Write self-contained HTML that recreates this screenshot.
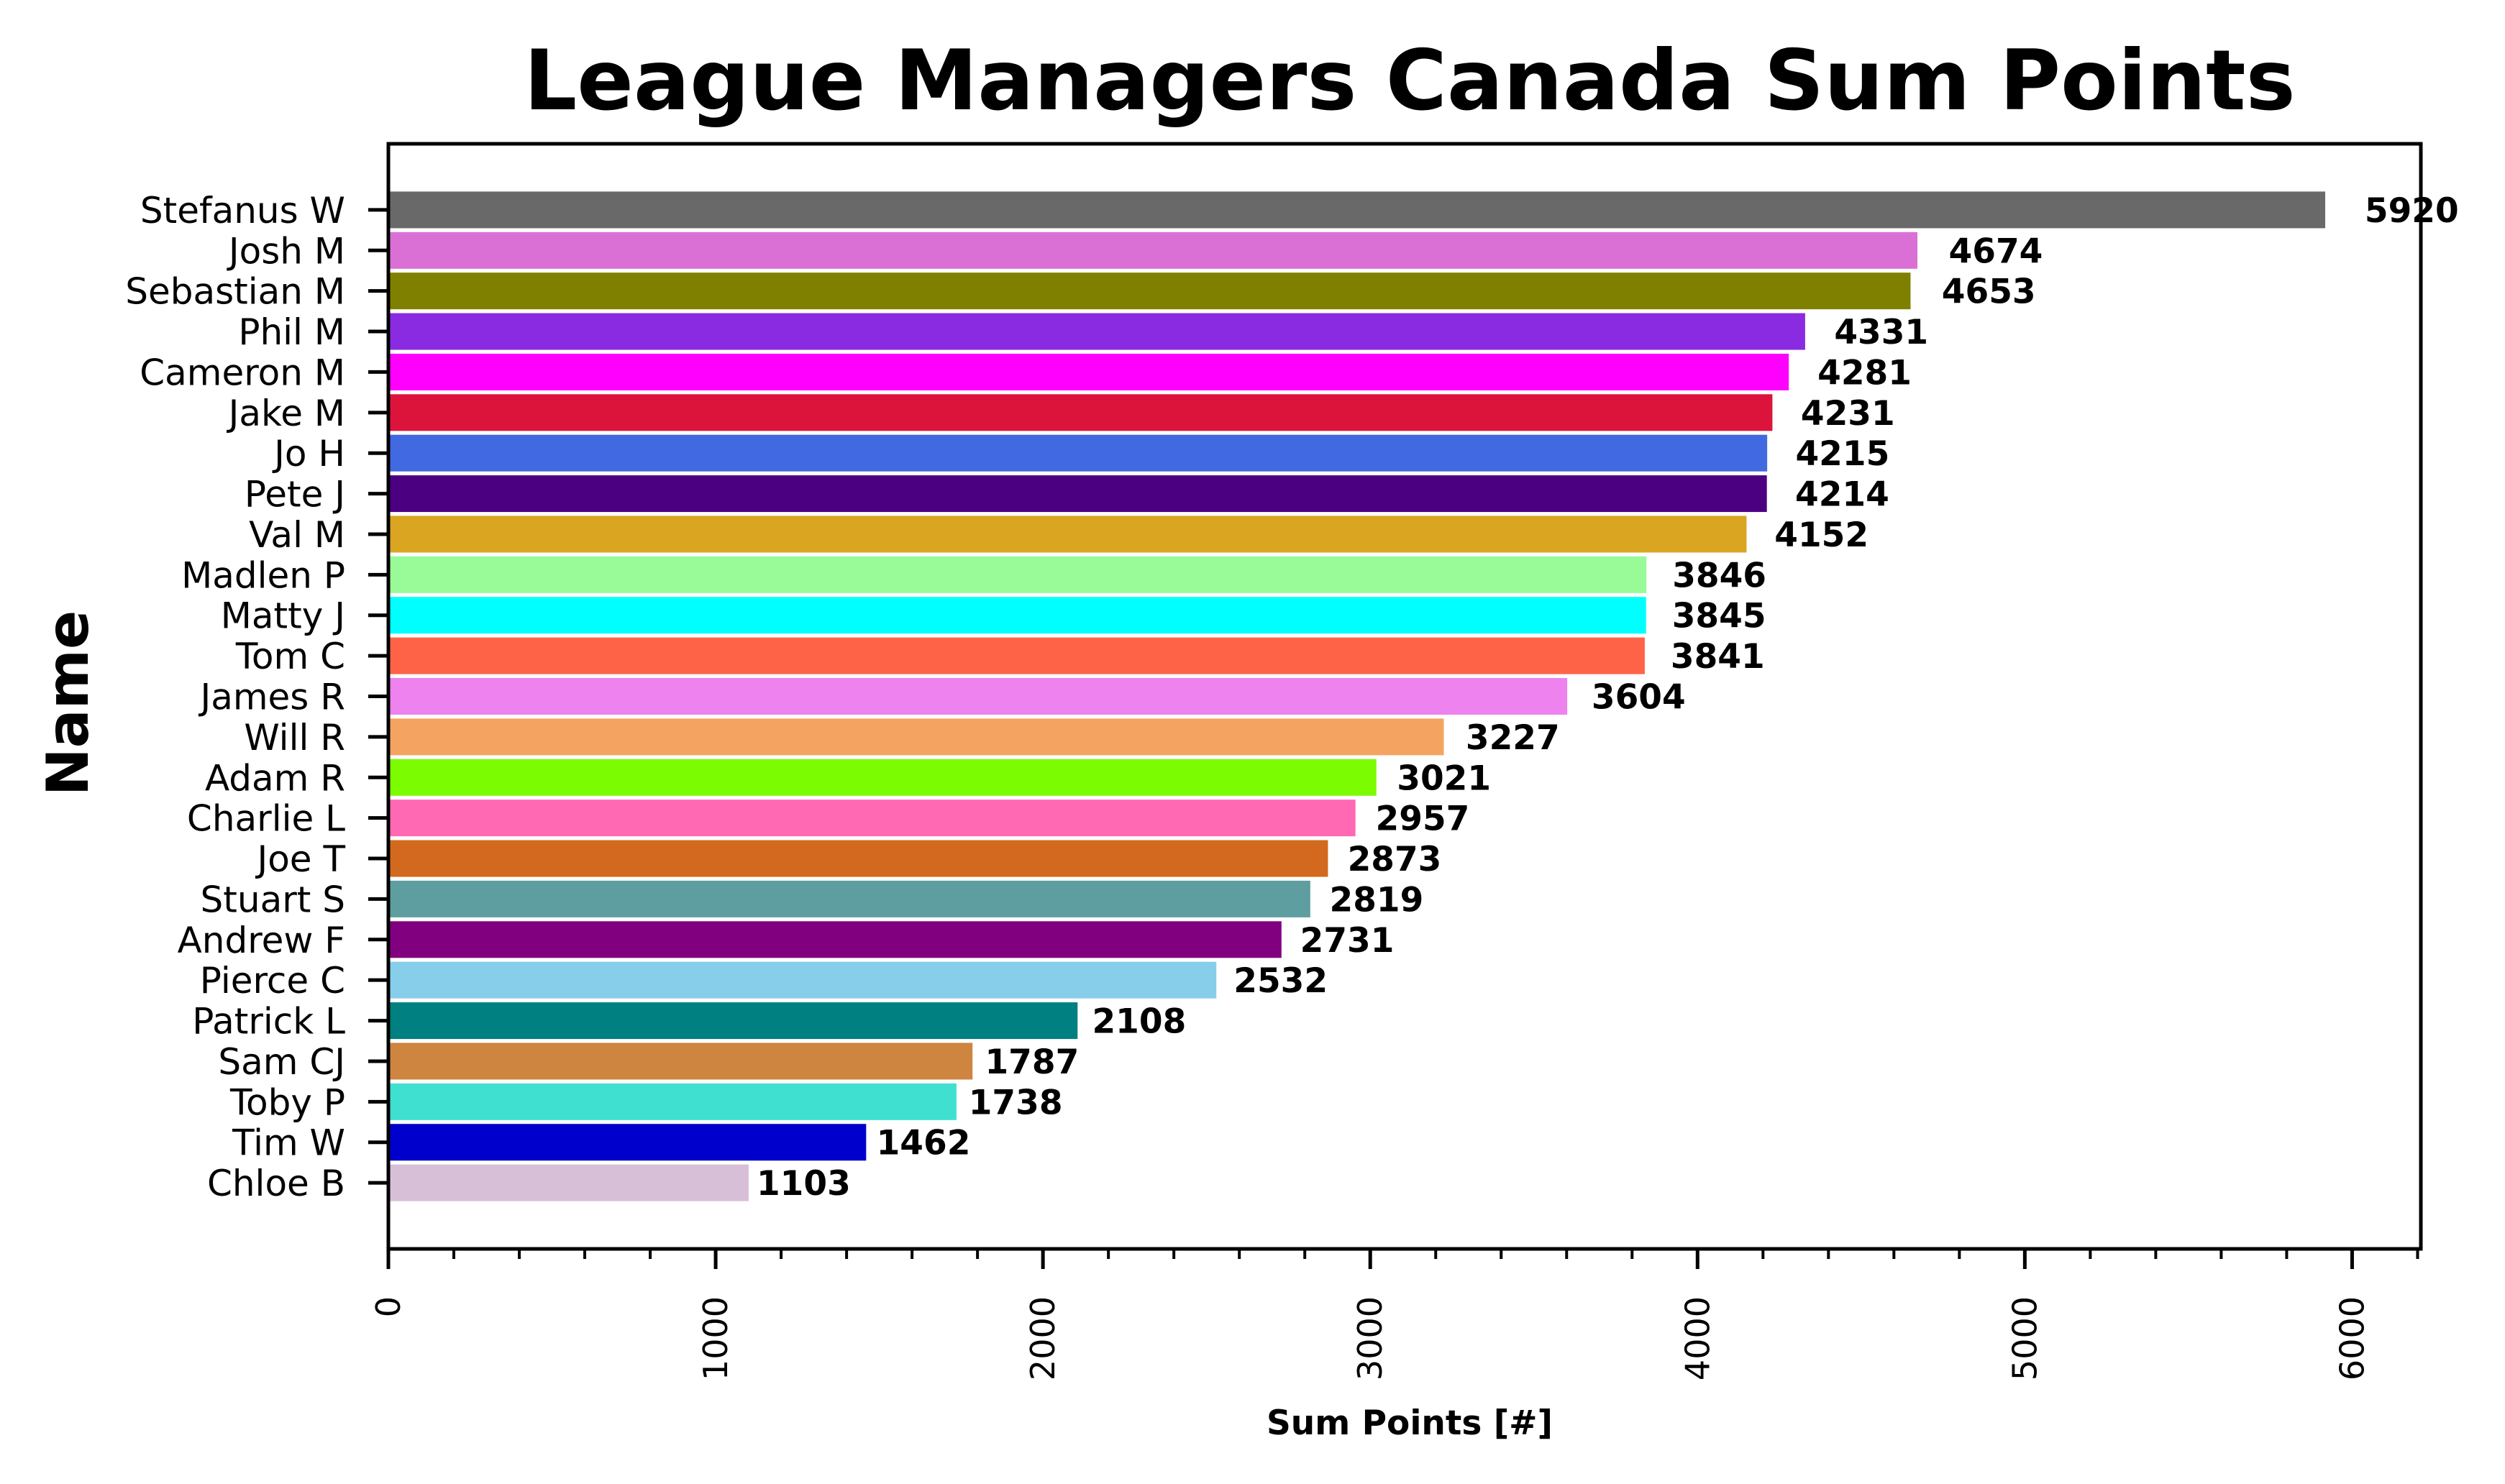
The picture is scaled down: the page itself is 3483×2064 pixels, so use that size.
<!DOCTYPE html>
<html><head><meta charset="utf-8"><style>
html,body{margin:0;padding:0;background:#fff;}
svg{display:block;font-family:"DejaVu Sans","Liberation Sans",sans-serif;}
</style></head><body>
<svg id="chart" width="3483" height="2064" viewBox="0 0 3483 2064" xmlns="http://www.w3.org/2000/svg">
<rect width="3483" height="2064" fill="#fff"/>
<text x="1960" y="152" text-anchor="middle" font-size="116" font-weight="bold">League Managers Canada Sum Points</text>
<text transform="translate(122,978) rotate(-90)" text-anchor="middle" font-size="80" font-weight="bold">Name</text>
<text x="1960" y="1995" text-anchor="middle" font-size="47" font-weight="bold">Sum Points [#]</text>
<g id="bars"></g>
<g id="xticks"></g>
<g id="yticks"></g>
<rect x="540" y="200" width="2826" height="1537" fill="none" stroke="#000" stroke-width="5"/>
</svg>
<script>
const names = ["Stefanus W","Josh M","Sebastian M","Phil M","Cameron M","Jake M","Jo H","Pete J","Val M","Madlen P","Matty J","Tom C","James R","Will R","Adam R","Charlie L","Joe T","Stuart S","Andrew F","Pierce C","Patrick L","Sam CJ","Toby P","Tim W","Chloe B"];
const points = [5920,4674,4653,4331,4281,4231,4215,4214,4152,3846,3845,3841,3604,3227,3021,2957,2873,2819,2731,2532,2108,1787,1738,1462,1103];
const colors = ["#696969","#DA70D6","#808000","#8A2BE2","#FF00FF","#DC143C","#4169E1","#4B0082","#DAA520","#98FB98","#00FFFF","#FF6347","#EE82EE","#F4A460","#7CFC00","#FF69B4","#D2691E","#5F9EA0","#800080","#87CEEB","#008080","#CD853F","#40E0D0","#0000CD","#D8BFD8"];
const xTicks = [0,1000,2000,3000,4000,5000,6000];
const xMinor = [200,400,600,800,1200,1400,1600,1800,2200,2400,2600,2800,3200,3400,3600,3800,4200,4400,4600,4800,5200,5400,5600,5800,6200];

const NS="http://www.w3.org/2000/svg";
const X0=540, X1=3366, XMAX=6210;
const xs = v => X0 + v/XMAX*(X1-X0);
const Y0=200, Y1=1737, PAD=1.63;
const yc = i => Y0 + (PAD + i)/(names.length-1+2*PAD)*(Y1-Y0);
const step = (Y1-Y0)/(names.length-1+2*PAD);
const bh = step*0.94;
function mk(tag, attrs, parent){const e=document.createElementNS(NS,tag);for(const k in attrs)e.setAttribute(k,attrs[k]);parent.appendChild(e);return e;}
const gb=document.getElementById('bars'), gx=document.getElementById('xticks'), gy=document.getElementById('yticks');
names.forEach((n,i)=>{
  const y=yc(i);
  const r=mk('rect',{x:X0,y:y-bh/2,width:xs(points[i])-X0,height:bh,fill:colors[i],stroke:'#fff','stroke-width':2},gb);
  
  
  const t=mk('text',{x:xs(points[i]*1.02),y:y+17,'font-size':47,'font-weight':'bold'},gb);
  t.textContent=points[i];
  
  
  const tk=mk('line',{x1:X0-28,x2:X0,y1:y,y2:y,stroke:'#000','stroke-width':5},gy);
  
  
  const l=mk('text',{x:X0-60,y:y+18,'text-anchor':'end','font-size':50},gy);
  l.textContent=n;
  
  
});
xTicks.forEach(v=>{
  const x=xs(v);
  const tk=mk('line',{x1:x,x2:x,y1:Y1,y2:Y1+28,stroke:'#000','stroke-width':5},gx);
  
  
  const l=mk('text',{transform:`translate(${x+16},${Y1+66}) rotate(-90)`,'text-anchor':'end','font-size':46},gx);
  l.textContent=v;
  
  
});
xMinor.forEach(v=>{
  const x=xs(v);
  const tk=mk('line',{x1:x,x2:x,y1:Y1,y2:Y1+14,stroke:'#000','stroke-width':4},gx);
  
  
});
</script>
</body></html>
